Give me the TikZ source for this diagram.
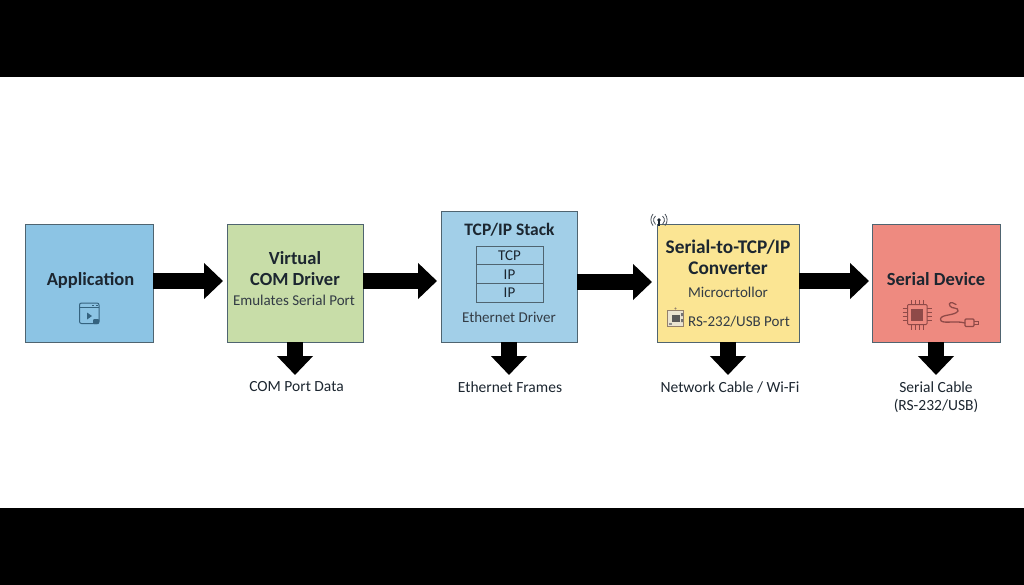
\documentclass[tikz,border=0pt]{standalone}
\usepackage{fontspec}
\setmainfont{Carlito}
\usetikzlibrary{arrows.meta}
\definecolor{ink}{HTML}{1C2630}
\definecolor{edgec}{HTML}{4F6470}
\definecolor{appblue}{HTML}{8CC4E4}
\definecolor{tcpblue}{HTML}{A2CFE8}
\definecolor{comgreen}{HTML}{C8DDA8}
\definecolor{convyellow}{HTML}{FBE593}
\definecolor{devred}{HTML}{EE8A80}
\definecolor{iconblue}{HTML}{35637F}
\definecolor{iconred}{HTML}{8F4A48}
\tikzset{
  x=1pt,y=-1pt,
  block/.style={draw=edgec,line width=1pt,inner sep=0pt,outer sep=0pt,anchor=north west},
  flow/.style={draw=black,line width=16pt,-{Triangle[length=19pt,width=35pt]}},
  title/.style={font=\fontsize{18.5}{20.5}\selectfont\bfseries,text=ink,inner sep=0pt,align=center},
  sub/.style={font=\fontsize{15}{17}\selectfont,text=ink!90,inner sep=0pt,align=center},
  outlabel/.style={font=\fontsize{15.5}{18}\selectfont,text=ink,inner sep=0pt,align=center,anchor=north},
  layer/.style={draw=edgec,line width=.8pt,minimum width=67pt,minimum height=18.7pt,inner sep=0pt,outer sep=0pt,font=\fontsize{15}{17}\selectfont,text=ink},
}
\begin{document}
\begin{tikzpicture}
\useasboundingbox (0,0) rectangle (1024,585);
\fill[white] (0,0) rectangle (1024,585);
\fill[black] (0,0) rectangle (1024,77);
\fill[black] (0,508) rectangle (1024,585);

\node[block,fill=appblue,minimum width=128pt,minimum height=117pt] (app) at (25,225) {};
\node[block,fill=comgreen,minimum width=136pt,minimum height=117pt] (vcom) at (227,225) {};
\node[block,fill=tcpblue,minimum width=136pt,minimum height=130pt] (tcp) at (441,212) {};
\node[block,fill=convyellow,minimum width=142pt,minimum height=117pt] (conv) at (657,225) {};
\node[block,fill=devred,minimum width=128pt,minimum height=117pt] (dev) at (872,225) {};

\node[title] (tapp) at (90.5,280) {Application};
\node[title] (tvcom) at (295,268.5) {Virtual\\COM Driver};
\node[sub] (svcom) at (294,300.5) {Emulates Serial Port};
\node[title,font=\fontsize{17.5}{20}\selectfont\bfseries] (ttcp) at (509.5,229.5) {TCP/IP Stack};
\node[layer] (ltcp) at (509.5,255.5) {TCP};
\node[layer] (lip1) at (509.5,274.2) {IP};
\node[layer] (lip2) at (509.5,292.9) {IP};
\node[sub] (seth) at (509,317.5) {Ethernet Driver};
\node[title,font=\fontsize{19.3}{20.5}\selectfont\bfseries] (tconv) at (728,257.5) {Serial-to-TCP/IP\\Converter};
\node[sub] (smc) at (728,292.5) {Microcrtollor};
\node[sub] (sport) at (739,322) {RS-232/USB Port};
\node[title] (tdev) at (936,279) {Serial Device};

\node[outlabel] (lcom) at (296.5,381.5) {COM Port Data};
\node[outlabel] (leth) at (510,381.5) {Ethernet Frames};
\node[outlabel] (lnet) at (730,381.5) {Network Cable / Wi-Fi};
\node[outlabel] (lser) at (936,381.5) {Serial Cable\\(RS-232/USB)};

\coordinate (r1) at (0,281);
\coordinate (r2) at (0,282);
\draw[flow,shorten >=4pt] (app.east |- r1) -- (vcom.west |- r1);
\draw[flow,shorten >=4pt] (vcom.east |- r1) -- (tcp.west |- r1);
\draw[flow,shorten >=5pt] (tcp.east |- r2) -- (conv.west |- r2);
\draw[flow,shorten >=3pt] (conv.east |- r1) -- (dev.west |- r1);
\draw[flow,shorten >=6.5pt] (vcom.south) -- (vcom.south |- lcom.north);
\draw[flow,shorten >=6.5pt] (tcp.south) -- (tcp.south |- leth.north);
\draw[flow,shorten >=6.5pt] (conv.south) -- (conv.south |- lnet.north);
\draw[flow,shorten >=6.5pt] (dev.south) -- (dev.south |- lser.north);

% application icon
\draw[iconblue,line width=1pt,rounded corners=2pt] (79.5,303) rectangle (99,323.5);
\draw[iconblue,line width=.9pt] (79.5,307.5) -- (99,307.5);
\fill[iconblue] (87,312.5) -- (92,316) -- (87,319.5) -- cycle;
\fill[iconblue,rounded corners=1pt] (93,319) rectangle (99,324);
\draw[iconblue,line width=.6pt] (92,305.2) -- (94,305.2) (95.5,305.2) -- (97.5,305.2);

% antenna icon
\fill[ink] (659,220) circle (1.9pt);
\draw[ink,line width=1.2pt] (659,220) -- (659,226);
\draw[ink!80,line width=.8pt] (655.5,216) arc[start angle=130,end angle=230,radius=5.5pt];
\draw[ink!80,line width=.8pt] (662.5,216) arc[start angle=50,end angle=-50,radius=5.5pt];
\draw[ink!80,line width=.8pt] (653,214) arc[start angle=140,end angle=220,radius=9pt];
\draw[ink!80,line width=.8pt] (665,214) arc[start angle=40,end angle=-40,radius=9pt];

% board icon
\fill[gray!70!brown] (675.5,308.5) circle (1.2pt);
\draw[gray!70!brown,fill=convyellow!60!gray!40,line width=.9pt] (667.5,310.5) rectangle (683.5,326.5);
\fill[black!65] (672,315) rectangle (680,322);
\fill[black!55] (681,313) rectangle (683,316) (681,319) rectangle (683,322);
\fill[black!45] (669,322.5) rectangle (672,325);

% chip icon
\draw[iconred,line width=1pt,rounded corners=1pt] (907.5,304.5) rectangle (927,324.5);
\fill[iconred] (911,309) rectangle (923,321);
\foreach \k in {0,1,2,3}{
  \draw[iconred,line width=.7pt] (902.5,{308.5+4*\k}) -- (907.5,{308.5+4*\k});
  \draw[iconred,line width=.7pt] (927,{308.5+4*\k}) -- (932,{308.5+4*\k});
  \draw[iconred,line width=.7pt] ({911.5+4*\k},300) -- ({911.5+4*\k},304.5);
  \draw[iconred,line width=.7pt] ({911.5+4*\k},324.5) -- ({911.5+4*\k},329.5);
}
% cable icon
\draw[iconred,line width=1.3pt,line cap=round] (956,304.5) .. controls (951,301) and (948,303) .. (950,306)
  .. controls (951,309) and (959,307) .. (958,311)
  .. controls (955,316) and (941,314) .. (940.5,319)
  .. controls (940,325) and (955,320) .. (965,323);
\draw[iconred,line width=1.2pt,rounded corners=1pt] (965,319) rectangle (974,326.5);
\draw[iconred,line width=1pt] (974,321) -- (978,321) -- (978,324.5) -- (974,324.5);
\end{tikzpicture}
\end{document}
